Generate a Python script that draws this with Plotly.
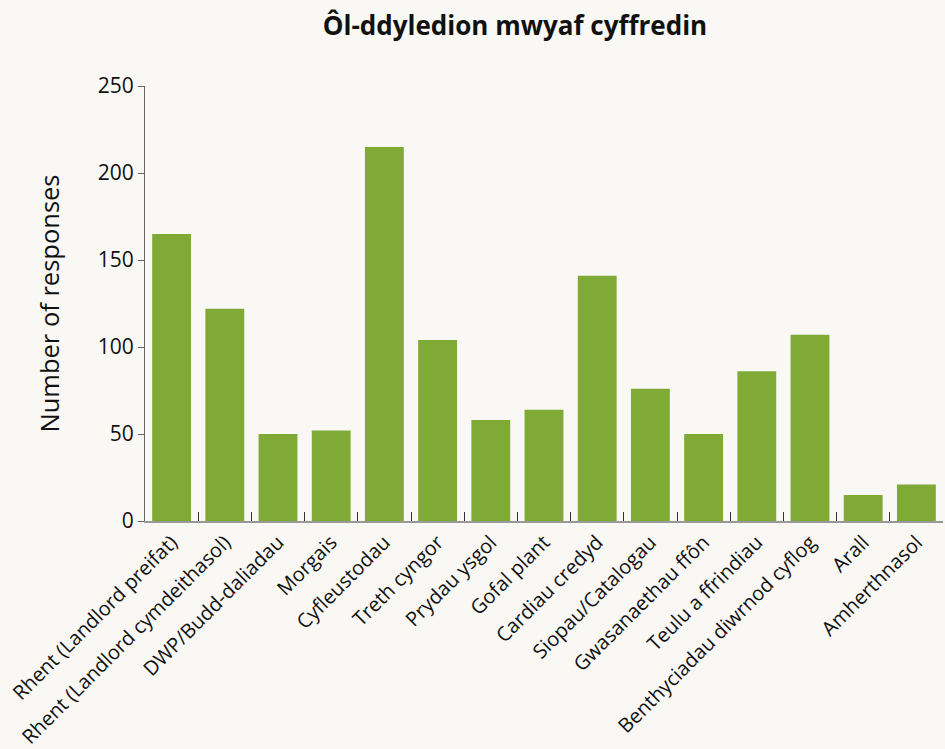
import plotly.graph_objects as go

categories = [
    "Rhent (Landlord preifat)", "Rhent (Landlord cymdeithasol)", "DWP/Budd-daliadau",
    "Morgais", "Cyfleustodau", "Treth cyngor", "Prydau ysgol", "Gofal plant",
    "Cardiau credyd", "Siopau/Catalogau", "Gwasanaethau ffôn", "Teulu a ffrindiau",
    "Benthyciadau diwrnod cyflog", "Arall", "Amherthnasol",
]
responses = [165, 122, 50, 52, 215, 104, 58, 64, 141, 76, 50, 86, 107, 15, 21]

BG = "#f9f8f4"
BAR = "#7faa35"
FONT = "Open Sans, sans-serif"

fig = go.Figure(go.Bar(x=categories, y=responses, marker_color=BAR,
                       marker_line_width=0))

fig.update_layout(
    width=945, height=749,
    paper_bgcolor=BG, plot_bgcolor=BG,
    font=dict(family=FONT, size=16, color="#111111"),
    title=dict(text="<b>Ôl-ddyledion mwyaf cyffredin</b>", x=0.545, xanchor="center",
               y=0.966, yanchor="middle", font=dict(size=26, color="#111111")),
    margin=dict(l=145, r=2, t=86, b=228),
    bargap=0.27,
    showlegend=False,
)
fig.update_xaxes(
    tickangle=-45, tickson="boundaries", ticks="inside", ticklen=9,
    tickcolor="#333333", showline=True, linecolor="#999999", linewidth=1.5,
    tickfont=dict(size=20), showgrid=False, automargin=False,
)
fig.update_yaxes(
    range=[0, 250], dtick=50, ticks="outside", ticklen=6, tickcolor="#666666",
    showline=True, linecolor="#666666", linewidth=1, showgrid=False,
    zeroline=False, tickfont=dict(size=21), automargin=False,
    title=dict(text="Number of responses", font=dict(size=25.5), standoff=30),
)

fig.write_html("out.html", config={"displayModeBar": False},
               post_script="document.body.style.margin='0';")
